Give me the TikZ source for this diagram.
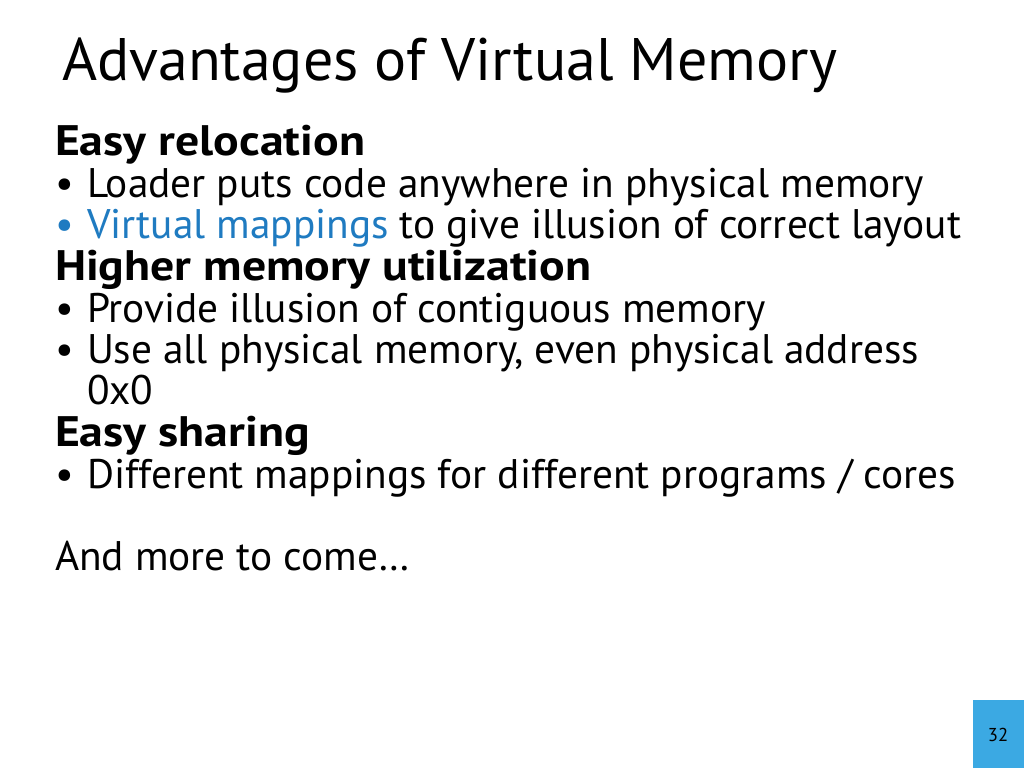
\documentclass[tikz,border=0pt]{standalone}
\usepackage{fontspec}
\setmainfont{PT Sans}
\newfontfamily\headfont[FakeStretch=1.12]{PT Sans Bold}
\definecolor{linkblue}{HTML}{1F7BC1}
\definecolor{boxblue}{HTML}{3BA9E3}
\begin{document}
\begin{tikzpicture}[x=0.75pt,y=-0.75pt,
  every node/.style={anchor=base west,inner sep=0pt,outer sep=0pt},
  body/.style={font=\fontsize{31}{36}\selectfont},
  head/.style={font=\fontsize{32}{36}\headfont}]
\useasboundingbox (0,0) rectangle (1024,768);
\fill[white] (0,0) rectangle (1024,768);
\node[font=\fontsize{45}{52}\selectfont] (title) at (62,80) {Advantages of Virtual Memory};
\node[head] (h1) at (55,155) {Easy relocation};
\node[body] (b1) at (55,197) {•};
\node[body] (t1) at (87,197) {Loader puts code anywhere in physical memory};
\node[body,text=linkblue] (b2) at (55,238) {•};
\node[body] (t2) at (87,238) {\textcolor{linkblue}{Virtual mappings} to give illusion of correct layout};
\node[head] (h2) at (55,280) {Higher memory utilization};
\node[body] (b3) at (55,322) {•};
\node[body] (t3) at (87,322) {Provide illusion of contiguous memory};
\node[body] (b4) at (55,363) {•};
\node[body] (t4) at (87,363) {Use all physical memory, even physical address};
\node[body] (t4b) at (87,404) {0x0};
\node[head] (h3) at (55,446) {Easy sharing};
\node[body] (b5) at (55,488) {•};
\node[body] (t5) at (87,488) {Different mappings for different programs / cores};
\node[body] (more) at (55,570) {And more to come…};
\fill[boxblue] (973,700) rectangle (1024,768);
\node[anchor=center,font=\fontsize{14}{16}\selectfont] (pg) at (998,735) {32};
\end{tikzpicture}
\end{document}
